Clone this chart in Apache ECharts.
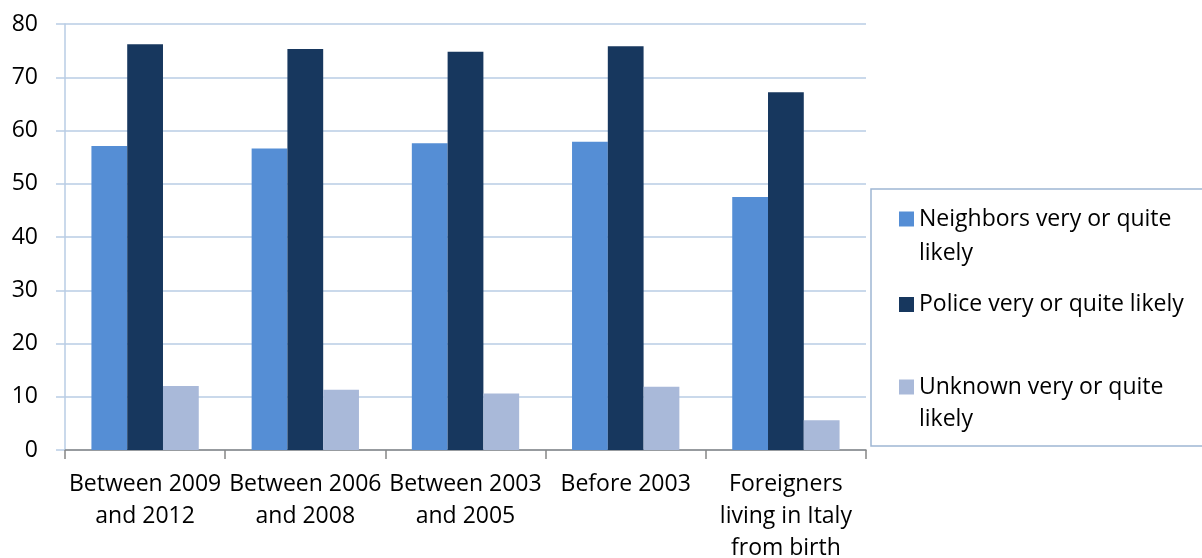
<!DOCTYPE html>
<html>
<head>
<meta charset="utf-8">
<script src="https://cdn.jsdelivr.net/npm/echarts@6/dist/echarts.min.js"></script>
<style>
  html, body { margin: 0; padding: 0; background: #fff; }
  #main-chart { width: 1202px; height: 558px; }
</style>
</head>
<body>
<div id="main-chart"></div>
<script>
const categories = [
  'Between 2009\nand 2012',
  'Between 2006\nand 2008',
  'Between 2003\nand 2005',
  'Before 2003',
  'Foreigners\nliving in Italy\nfrom birth'
]
const seriesNames = [
  'Neighbors very or quite likely',
  'Police very or quite likely',
  'Unknown very or quite likely'
]
const neighbors = [57.1, 56.6, 57.6, 57.9, 47.5]
const police = [76.2, 75.3, 74.8, 75.8, 67.2]
const unknown = [12.0, 11.3, 10.6, 11.9, 5.6]
const yTicks = { min: 0, max: 80, interval: 10 }

const FONT = 'Open Sans'
const FONT_SIZE = 23
const colors = ['#558ed5', '#17375e', '#a9b9d9']
const gridColor = '#b9cde5'

const chart = echarts.init(document.getElementById('main-chart'), null, { renderer: 'canvas' })

// one legend per entry so the icon sits on the first text line like the original
const legendBase = {
  orient: 'vertical',
  left: 899,
  padding: 0,
  itemWidth: 15,
  itemHeight: 15,
  icon: 'rect',
  selectedMode: false,
  textStyle: { fontFamily: FONT, fontSize: FONT_SIZE, color: '#000', lineHeight: 33 }
}

chart.setOption({
  animation: false,
  textStyle: { fontFamily: FONT },
  grid: { left: 65, right: 336, top: 24, bottom: 108, outerBoundsMode: 'none' },
  legend: [
    Object.assign({}, legendBase, {
      top: 168,
      data: [{ name: seriesNames[0] }],
      formatter: () => '\nNeighbors very or quite\nlikely',
      textStyle: Object.assign({}, legendBase.textStyle, { lineHeight: 34 })
    }),
    Object.assign({}, legendBase, {
      top: 288,
      data: [{ name: seriesNames[1] }]
    }),
    Object.assign({}, legendBase, {
      top: 339,
      data: [{ name: seriesNames[2] }],
      formatter: () => '\nUnknown very or quite\nlikely',
      textStyle: Object.assign({}, legendBase.textStyle, { lineHeight: 32 })
    })
  ],
  graphic: [{
    type: 'rect',
    shape: { x: 871, y: 189, width: 340, height: 257 },
    style: { fill: 'none', stroke: '#9fb6d3', lineWidth: 1.5 },
    z: 0
  }],
  xAxis: {
    type: 'category',
    data: categories,
    axisLine: { lineStyle: { color: '#868686', width: 1.5 } },
    axisTick: { show: true, length: 9, lineStyle: { color: '#868686', width: 1.5 } },
    axisLabel: {
      interval: 0,
      margin: 18,
      fontFamily: FONT,
      fontSize: FONT_SIZE,
      lineHeight: 32,
      color: '#000'
    }
  },
  yAxis: {
    type: 'value',
    min: yTicks.min,
    max: yTicks.max,
    interval: yTicks.interval,
    axisLine: { show: true, lineStyle: { color: gridColor, width: 1.5 } },
    axisTick: { show: true, length: 9, lineStyle: { color: gridColor, width: 1.5 } },
    axisLabel: { margin: 27, fontFamily: FONT, fontSize: FONT_SIZE, color: '#000' },
    splitLine: { lineStyle: { color: gridColor, width: 1.5 } }
  },
  series: [neighbors, police, unknown].map((data, i) => ({
    name: seriesNames[i],
    type: 'bar',
    data: data,
    barGap: '0%',
    barCategoryGap: '33%',
    itemStyle: { color: colors[i] }
  }))
})
</script>
</body>
</html>
